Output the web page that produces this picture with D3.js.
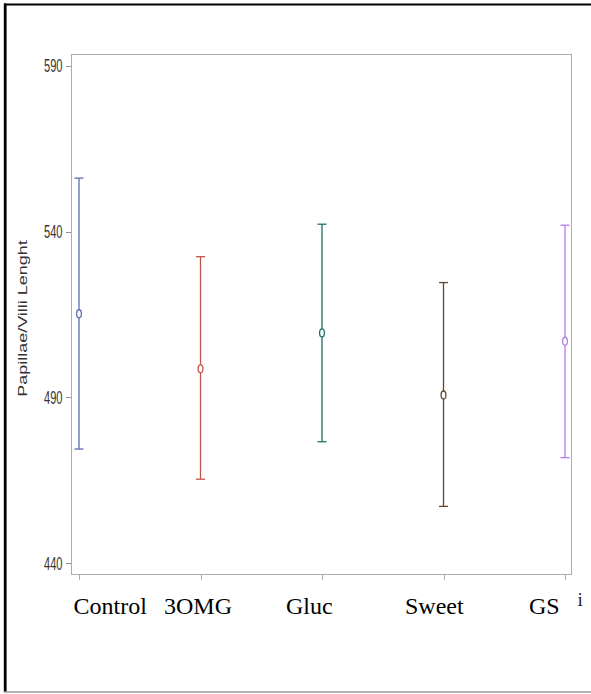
<!DOCTYPE html>
<html>
<head>
<meta charset="utf-8">
<script src="https://cdn.jsdelivr.net/npm/d3@7"></script>
<style>
  html, body { margin: 0; padding: 0; background: #fff; }
  svg { display: block; }
</style>
</head>
<body>
<div id="chart"></div>
<script>
// Group means with lower / upper limits of the error bars
const categories = ["Control", "3OMG", "Gluc", "Sweet", "GS"];
const means  = [515.2, 498.6, 509.4, 490.7, 506.9];
const lowers = [474.4, 465.3, 476.6, 457.1, 471.8];
const uppers = [556.1, 532.4, 542.2, 524.6, 541.9];
const yTicks = [440, 490, 540, 590];
const seriesColors = ["#5b6cb0", "#c25449", "#1d6f65", "#61462b", "#b47ceb"];
const yTitle = "Papillae/Villi Lenght";

const W = 591, H = 694;
const frame = { left: 71, right: 572, top: 54, bottom: 575 };
const squeeze = 0.6; // horizontal compression of the plot lettering

const svg = d3.select("#chart").append("svg")
  .attr("width", W).attr("height", H);

// outer box
svg.append("line").attr("x1", 4).attr("x2", W).attr("y1", 4.5).attr("y2", 4.5)
  .attr("stroke", "#000").attr("stroke-width", 2.2);
svg.append("line").attr("x1", 5.2).attr("x2", 5.2).attr("y1", 3.5).attr("y2", 692)
  .attr("stroke", "#000").attr("stroke-width", 2.8);
svg.append("line").attr("x1", 4).attr("x2", W).attr("y1", 692).attr("y2", 692)
  .attr("stroke", "#9a9a9a").attr("stroke-width", 1.5);

const x = d3.scalePoint().domain(categories).range([79, 565]);
const y = d3.scaleLinear().domain([436.41, 593.53]).range([frame.bottom, frame.top]);

// plot frame
svg.append("rect")
  .attr("x", frame.left + 0.5).attr("y", frame.top + 0.5)
  .attr("width", frame.right - frame.left - 1).attr("height", frame.bottom - frame.top - 1)
  .attr("fill", "none").attr("stroke", "#a9adb1").attr("stroke-width", 1);

// y axis ticks and labels
const yAxis = svg.append("g");
yAxis.selectAll("line").data(yTicks).join("line")
  .attr("x1", frame.left - 5).attr("x2", frame.left)
  .attr("y1", d => Math.round(y(d)) + 0.5).attr("y2", d => Math.round(y(d)) + 0.5)
  .attr("stroke", "#8f9398").attr("stroke-width", 1);
yAxis.selectAll("text").data(yTicks).join("text")
  .attr("transform", d => `translate(${frame.left - 8.5},${y(d)}) scale(${squeeze},1)`)
  .attr("text-anchor", "end").attr("dominant-baseline", "central")
  .attr("font-family", "Liberation Sans, Arial, sans-serif")
  .attr("font-size", 18.5).attr("fill", "#333")
  .text(d => d);

// x axis ticks (below the frame)
svg.append("g").selectAll("line").data(categories).join("line")
  .attr("x1", d => Math.round(x(d)) + 0.5).attr("x2", d => Math.round(x(d)) + 0.5)
  .attr("y1", frame.bottom).attr("y2", frame.bottom + 5)
  .attr("stroke", "#a9adb1").attr("stroke-width", 1);

// axis title
svg.append("text")
  .attr("transform", `translate(22.5,318.5) scale(0.68,1) rotate(-90)`)
  .attr("text-anchor", "middle").attr("dominant-baseline", "central")
  .attr("font-family", "Liberation Sans, Arial, sans-serif")
  .attr("font-size", 18).attr("fill", "#333")
  .text(yTitle);

// error bars
const rows = categories.map((c, i) => ({
  cat: c, mean: means[i], lo: lowers[i], hi: uppers[i], color: seriesColors[i]
}));
const capHalf = 4.5;
const bars = svg.append("g").selectAll("g").data(rows).join("g")
  .attr("stroke", d => d.color).attr("stroke-width", 1.3).attr("fill", "none");
bars.append("line")
  .attr("x1", d => x(d.cat)).attr("x2", d => x(d.cat))
  .attr("y1", d => y(d.hi)).attr("y2", d => y(d.lo));
bars.append("line")
  .attr("x1", d => x(d.cat) - capHalf).attr("x2", d => x(d.cat) + capHalf)
  .attr("y1", d => y(d.hi)).attr("y2", d => y(d.hi));
bars.append("line")
  .attr("x1", d => x(d.cat) - capHalf).attr("x2", d => x(d.cat) + capHalf)
  .attr("y1", d => y(d.lo)).attr("y2", d => y(d.lo));
bars.append("ellipse")
  .attr("cx", d => x(d.cat)).attr("cy", d => y(d.mean))
  .attr("rx", 2.4).attr("ry", 4)
  .attr("fill", "#fff");

// group captions under the axis
const captionX = [73.5, 164, 286, 405, 529];
svg.append("g").selectAll("text").data(categories).join("text")
  .attr("x", (d, i) => captionX[i]).attr("y", 614)
  .attr("font-family", "Liberation Serif, Times New Roman, serif")
  .attr("font-size", 24).attr("fill", "#000")
  .text(d => d);
svg.append("text")
  .attr("x", 577.5).attr("y", 606)
  .attr("font-family", "Liberation Serif, Times New Roman, serif")
  .attr("font-size", 19).attr("fill", "#222")
  .text("i");
</script>
</body>
</html>
